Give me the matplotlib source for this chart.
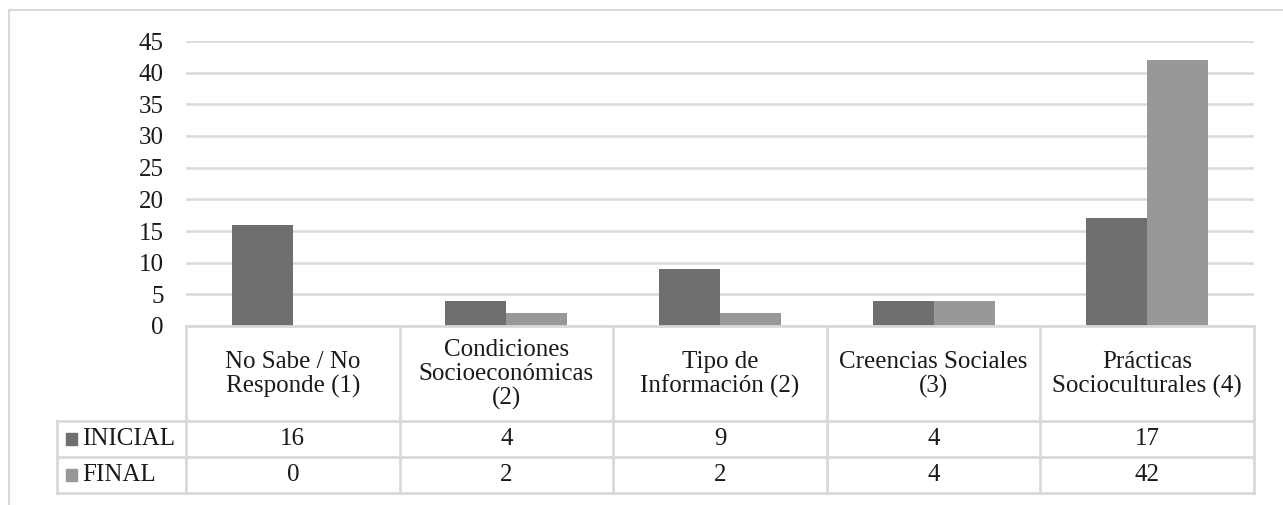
import numpy as np
import matplotlib.pyplot as plt
from matplotlib.patches import Rectangle

categories = ["No Sabe / No\nResponde (1)", "Condiciones\nSocioeconómicas\n(2)",
              "Tipo de\nInformación (2)", "Creencias Sociales\n(3)",
              "Prácticas\nSocioculturales (4)"]
series_names = ["INICIAL", "FINAL"]
inicial = [16, 4, 9, 4, 17]
final = [0, 2, 2, 4, 42]
yticks = [0, 5, 10, 15, 20, 25, 30, 35, 40, 45]

colors = ["#6f6f6f", "#989898"]
grid_c = "#d9d9d9"
txt_c = "#1a1a1a"
W, H = 1283, 505

plt.rcParams['font.family'] = ['Liberation Serif', 'DejaVu Serif']
fs = 18

fig = plt.figure(figsize=(W / 100, H / 100), dpi=100)

# outer frame
fig.add_artist(plt.Line2D([9 / W, 1], [1 - 10 / H, 1 - 10 / H], color=grid_c, lw=1.5))
fig.add_artist(plt.Line2D([9 / W, 9 / W], [0, 1 - 10 / H], color=grid_c, lw=1.5))

# bar chart
ax = fig.add_axes([186 / W, 1 - 326 / H, (1254 - 186) / W, (326 - 41) / H])
x = np.arange(len(categories))
bw = 1 / 3.5
ax.bar(x - bw / 2, inicial, bw, color=colors[0], zorder=3)
ax.bar(x + bw / 2, final, bw, color=colors[1], zorder=3)
ax.set_xlim(-0.5, len(categories) - 0.5)
ax.set_ylim(0, 45)
ax.set_yticks(yticks)
ax.set_xticks([])
ax.tick_params(axis='y', length=0, pad=16, labelsize=fs, labelcolor=txt_c)
ax.yaxis.grid(True, color=grid_c, lw=1.8, zorder=0)
for s in ax.spines.values():
    s.set_visible(False)
ax.axhline(0, color=grid_c, lw=2, zorder=4, clip_on=False)

# data table below
lab_w = (186 - 57) / 213.6
tax = fig.add_axes([57 / W, 1 - 493 / H, (1254 - 57) / W, (493 - 326) / H])
tax.set_xlim(-0.5 - lab_w, len(categories) - 0.5)
tax.set_ylim(493, 326)
tax.axis('off')
lk = dict(color=grid_c, lw=2, clip_on=False)
right = len(categories) - 0.5
for b in np.arange(len(categories) + 1) - 0.5:
    tax.plot([b, b], [326, 493], **lk)
tax.plot([-0.5 - lab_w, -0.5 - lab_w], [421, 493], **lk)
for yy in [421, 457, 493]:
    tax.plot([-0.5 - lab_w, right], [yy, yy], **lk)

for i, c in enumerate(categories):
    tax.text(i, 374.5, c, ha='center', va='center', fontsize=fs,
             linespacing=1.12, color=txt_c)
    tax.text(i, 439, str(inicial[i]), ha='center', va='center', fontsize=fs, color=txt_c)
    tax.text(i, 475, str(final[i]), ha='center', va='center', fontsize=fs, color=txt_c)

px = 1 / 213.6
for name, col, yc in zip(series_names, colors, [439, 475]):
    x0 = -0.5 - lab_w + 9 * px
    tax.add_patch(Rectangle((x0, yc - 6), 11 * px, 12, color=col, clip_on=False))
    tax.text(x0 + 16 * px, yc, name, ha='left', va='center', fontsize=fs, color=txt_c)

fig.savefig("out.png", dpi=100)
